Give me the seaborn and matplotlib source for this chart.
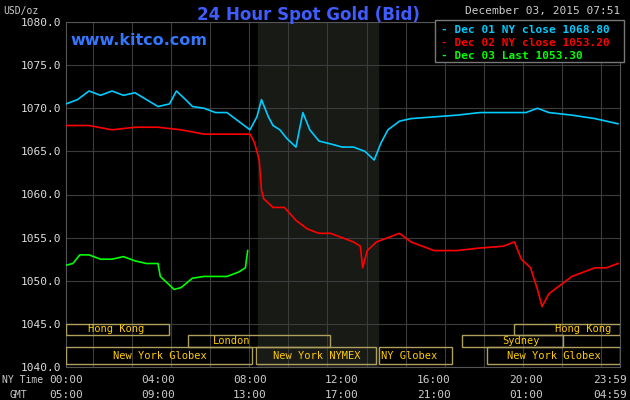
import matplotlib
matplotlib.use("Agg")
import matplotlib.pyplot as plt
import seaborn as sns
import pandas as pd
from matplotlib.patches import Rectangle

blue_t = [0,0.5,1,1.5,2,2.5,3,3.5,4,4.5,4.8,5.2,5.5,6,6.5,7,7.5,8,8.3,8.5,8.8,9,9.3,9.6,10,10.3,10.6,11,11.3,11.6,12,12.5,13,13.4,13.7,14,14.5,15,16,17,18,19,20,20.5,21,22,23,24]
blue_v = [1070.5,1071,1072,1071.5,1072,1071.5,1071.8,1071,1070.2,1070.5,1072,1071,1070.2,1070,1069.5,1069.5,1068.5,1067.5,1069,1071,1069,1068,1067.5,1066.5,1065.5,1069.5,1067.5,1066.2,1066,1065.8,1065.5,1065.5,1065,1064,1066,1067.5,1068.5,1068.8,1069,1069.2,1069.5,1069.5,1069.5,1070,1069.5,1069.2,1068.8,1068.2]
red_t = [0,1,2,3,4,5,6,7,8,8.2,8.4,8.5,8.6,9,9.5,10,10.5,11,11.5,12,12.5,12.8,12.9,13.1,13.5,14,14.5,15,15.5,16,17,18,19,19.5,19.8,20.2,20.5,20.7,21,21.5,22,22.5,23,23.5,24]
red_v = [1068,1068,1067.5,1067.8,1067.8,1067.5,1067,1067,1067,1066,1064,1060.5,1059.5,1058.5,1058.5,1057,1056,1055.5,1055.5,1055,1054.5,1054,1051.5,1053.5,1054.5,1055,1055.5,1054.5,1054,1053.5,1053.5,1053.8,1054,1054.5,1052.5,1051.5,1049,1047,1048.5,1049.5,1050.5,1051,1051.5,1051.5,1052]
green_t = [0,0.3,0.6,1,1.5,2,2.5,3,3.5,4,4.1,4.3,4.7,5,5.5,6,6.5,7,7.5,7.8,7.9]
green_v = [1051.8,1052,1053,1053,1052.5,1052.5,1052.8,1052.3,1052,1052,1050.5,1050,1049,1049.2,1050.3,1050.5,1050.5,1050.5,1051,1051.5,1053.5]

df = pd.concat([
    pd.DataFrame({"t": blue_t, "v": blue_v, "s": "Dec 01 NY close 1068.80"}),
    pd.DataFrame({"t": red_t, "v": red_v, "s": "Dec 02 NY close 1053.20"}),
    pd.DataFrame({"t": green_t, "v": green_v, "s": "Dec 03 Last 1053.30"}),
])
colors = {"Dec 01 NY close 1068.80": "#00ccff", "Dec 02 NY close 1053.20": "#ff0000", "Dec 03 Last 1053.30": "#00ff00"}

mono = "DejaVu Sans Mono"
fig = plt.figure(figsize=(6.3, 4.0), dpi=100, facecolor="black")
ax = fig.add_axes([66/630, 33/400, 554/630, 345/400], facecolor="black")
ax.axvspan(8.35, 13.56, color="#181a16", zorder=0)
sns.lineplot(data=df, x="t", y="v", hue="s", palette=colors, ax=ax, legend=False, linewidth=1.2, zorder=3)
ax.set_xlim(0, 24.09)
ax.set_ylim(1040, 1080)
for y in range(1040, 1081, 5):
    ax.axhline(y, color="#3c3c3c", lw=0.8, zorder=1)
g = 1.17
while g < 24:
    ax.axvline(g, color="#3c3c3c", lw=0.8, zorder=1)
    g += 1.7
ax.set_yticks(range(1040, 1081, 5))
ax.set_yticklabels([f"{y}.0" for y in range(1040, 1081, 5)], family=mono, color="#dddddd", fontsize=8)
ax.set_xticks([])
ax.set_xlabel(""); ax.set_ylabel("")
ax.tick_params(length=0)
for s in ax.spines.values():
    s.set_color("#555555")

box_c = "#b0a060"; txt_c = "#ffcc00"
rows = [(1043.7, 1045), (1042.3, 1043.7), (1040.3, 1042.3)]
sessions = [
    (0, 0, 4.5, "Hong Kong", 2.2), (0, 19.5, 24.09, "Hong Kong", 22.5),
    (1, 5.3, 11.5, "London", 7.2), (1, 17.2, 21.6, "Sydney", 19.8),
    (2, 0, 8.1, "New York Globex", 4.1), (2, 8.25, 13.5, "New York NYMEX", 10.9),
    (2, 13.6, 16.8, "NY Globex", 14.9), (2, 18.3, 24.09, "New York Globex", 21.2),
]
for r, x0, x1, lab, xt in sessions:
    y0, y1 = rows[r]
    ax.add_patch(Rectangle((x0, y0), x1 - x0, y1 - y0, fill=False, ec=box_c, lw=1, zorder=4))
    ax.text(xt, (y0 + y1) / 2, lab, ha="center", va="center", color=txt_c, family=mono, fontsize=7.5, zorder=5)

ax.text(0.2, 1077.3, "www.kitco.com", color="#3377ff", fontsize=11.5, fontweight="bold", zorder=5)
fig.text(0.49, 0.985, "24 Hour Spot Gold (Bid)", ha="center", va="top", color="#3f5cff", fontsize=12, fontweight="bold")
fig.text(0.985, 0.985, "December 03, 2015 07:51", ha="right", va="top", color="#cccccc", family=mono, fontsize=8)
fig.text(0.005, 0.985, "USD/oz", ha="left", va="top", color="#cccccc", family=mono, fontsize=7)

lx = 0.700; ly = [0.925, 0.893, 0.861]
fig.patches.append(Rectangle((0.690, 0.845), 0.30, 0.105, transform=fig.transFigure, fill=True, fc="black", ec="#777777", lw=1, zorder=6))
for (name, c), y in zip(colors.items(), ly):
    fig.text(lx, y, "- " + name, color=c, family=mono, fontsize=8, fontweight="bold", va="center", zorder=7)

times_ny = ["00:00", "04:00", "08:00", "12:00", "16:00", "20:00", "23:59"]
times_gmt = ["05:00", "09:00", "13:00", "17:00", "21:00", "01:00", "04:59"]
hrs = [0, 4, 8, 12, 16, 20, 23.98]
for h, a, b in zip(hrs, times_ny, times_gmt):
    xf = (66 + h * 23) / 630 - (0.0 if h < 23 else 0.012)
    fig.text(xf, 0.050, a, ha="center", va="center", color="#cccccc", family=mono, fontsize=8)
    fig.text(xf, 0.013, b, ha="center", va="center", color="#cccccc", family=mono, fontsize=8)
fig.text(0.003, 0.050, "NY Time", color="#cccccc", family=mono, fontsize=7, va="center")
fig.text(0.015, 0.013, "GMT", color="#cccccc", family=mono, fontsize=7, va="center")

fig.savefig("out.png", dpi=100, facecolor="black")
